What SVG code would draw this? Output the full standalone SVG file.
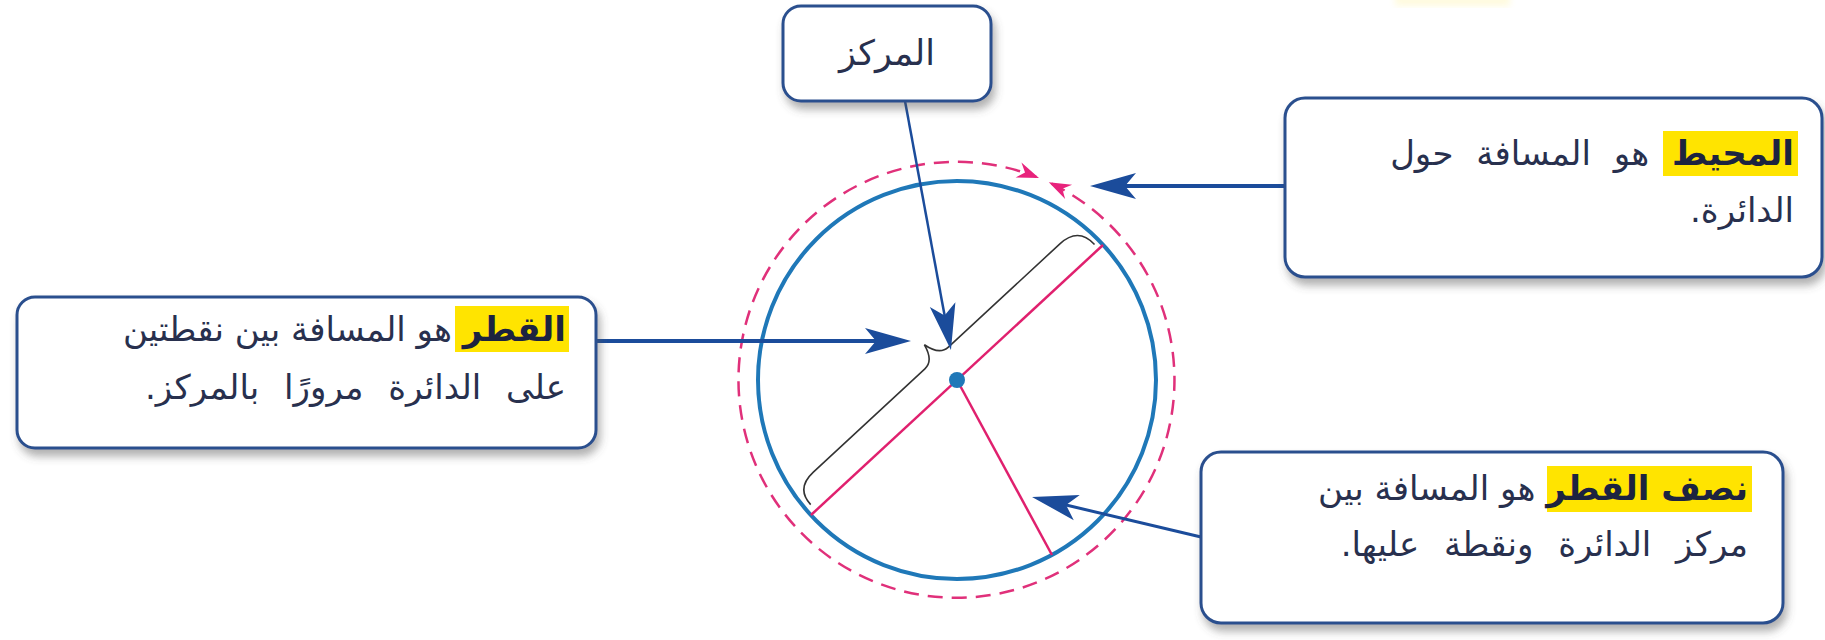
<svg xmlns="http://www.w3.org/2000/svg" width="1825" height="640" viewBox="0 0 1825 640">
<style>
.box{fill:#ffffff;stroke:#2b4f8e;stroke-width:3;filter:url(#sh)}
.txt{font-family:"DejaVu Sans",sans-serif;font-size:34px;fill:#28304e}
.b{font-weight:bold;fill:#1c2340}
.hl{fill:#ffe400}
.conn{fill:none;stroke:#1b4c9b;stroke-linecap:butt}
</style>
<defs>
<filter id="sh" x="-10%" y="-10%" width="125%" height="140%">
<feDropShadow dx="3" dy="7" stdDeviation="4" flood-color="#555" flood-opacity="0.45"/>
</filter>
<filter id="blur"><feGaussianBlur stdDeviation="3"/></filter>
<marker id="ah" markerUnits="userSpaceOnUse" viewBox="-50 -16 60 32" markerWidth="60" markerHeight="32" refX="-8" refY="0" orient="auto">
<path d="M0,0 L-46,-13 L-35,0 L-46,13 Z" fill="#1b4c9b"/>
</marker>
<marker id="ph" markerUnits="userSpaceOnUse" viewBox="-26 -10 30 20" markerWidth="30" markerHeight="20" refX="-3" refY="0" orient="auto-start-reverse">
<path d="M0,0 L-22,-8 L-15,0 L-22,8 Z" fill="#e8237c"/>
</marker>
</defs>

<rect x="1395" y="-6" width="115" height="12" fill="#fff6b8" opacity="0.45" filter="url(#blur)"/>

<g id="circle-figure">
<path d="M 1051.5 183.6 A 218 218 0 1 1 1036.2 176.9" fill="none" stroke="#e0307a" stroke-width="2.5" stroke-dasharray="15 9" marker-start="url(#ph)" marker-end="url(#ph)"/>
<circle cx="957" cy="380" r="199" fill="none" stroke="#1f78b8" stroke-width="4"/>
<line x1="811" y1="515" x2="1103" y2="245" stroke="#e0206e" stroke-width="2.5"/>
<line x1="957" y1="380" x2="1052" y2="555" stroke="#e0206e" stroke-width="2.5"/>
<path transform="translate(957 380) rotate(-42.8)" d="M 193,-6 Q 193,-30 168,-30 L 16,-30 Q 4,-30 0,-48 Q -4,-30 -16,-30 L -168,-30 Q -192,-30 -192,-8" fill="none" stroke="#333" stroke-width="1.6"/>
<circle cx="957" cy="380" r="8" fill="#1f78b8"/>
</g>

<g id="connectors">
<line class="conn" x1="905" y1="101" x2="949.5" y2="342.1" stroke-width="2.5" marker-end="url(#ah)"/>
<line class="conn" x1="596" y1="341" x2="903" y2="341" stroke-width="4" marker-end="url(#ah)"/>
<line class="conn" x1="1285" y1="186" x2="1098" y2="186" stroke-width="4" marker-end="url(#ah)"/>
<line class="conn" x1="1201" y1="537" x2="1039.8" y2="498.8" stroke-width="3" marker-end="url(#ah)"/>
</g>

<g id="node-center">
<rect class="box" x="783" y="6" width="208" height="95" rx="18"/>
<text class="txt" x="887" y="65" text-anchor="middle" style="font-size:35px">المركز</text>
</g>

<g id="node-diameter">
<rect class="box" x="17" y="297" width="579" height="151" rx="18"/>
<rect class="hl" x="455" y="306" width="114" height="46"/>
<text class="txt" x="566" y="341" direction="rtl" text-anchor="start"><tspan class="b">القطر</tspan> هو المسافة بين نقطتين</text>
<text class="txt" x="566" y="399" direction="rtl" text-anchor="start" style="word-spacing:14px">على الدائرة مرورًا بالمركز.</text>
</g>

<g id="node-circumference">
<rect class="box" x="1285" y="98" width="537" height="179" rx="20"/>
<rect class="hl" x="1663" y="131" width="135" height="45"/>
<text class="txt" x="1794" y="165" direction="rtl" text-anchor="start" style="word-spacing:12px"><tspan class="b">المحيط</tspan> هو المسافة حول</text>
<text class="txt" x="1794" y="222" direction="rtl" text-anchor="start">الدائرة.</text>
</g>

<g id="node-radius">
<rect class="box" x="1201" y="452" width="582" height="171" rx="20"/>
<rect class="hl" x="1547" y="466" width="205" height="46"/>
<text class="txt" x="1748" y="500" direction="rtl" text-anchor="start"><tspan class="b">نصف القطر</tspan> هو المسافة بين</text>
<text class="txt" x="1748" y="556" direction="rtl" text-anchor="start" style="word-spacing:14px">مركز الدائرة ونقطة عليها.</text>
</g>
</svg>
